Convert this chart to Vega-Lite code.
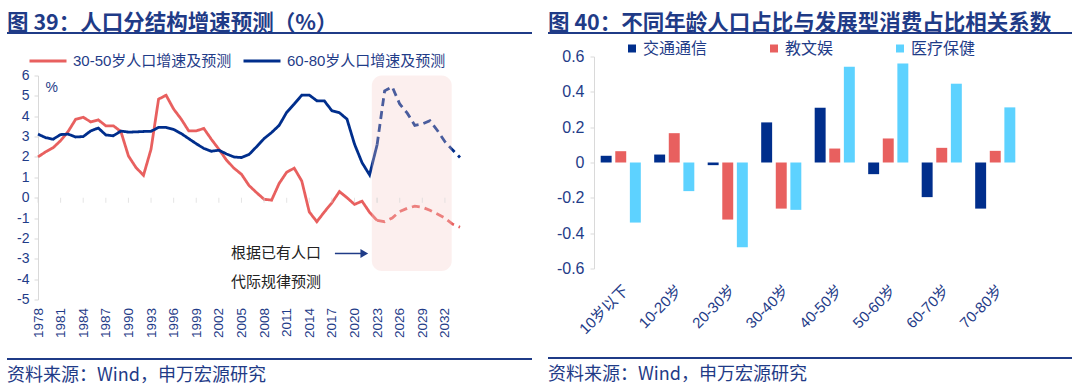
{
  "$schema": "https://vega.github.io/schema/vega-lite/v6.json",
  "background": "white",
  "padding": {"left": 7, "top": 12, "right": 0, "bottom": 0},
  "bounds": "full",
  "align": "none",
  "spacing": 16,
  "resolve": {"scale": {"color": "independent", "strokeDash": "independent", "x": "independent", "y": "independent"}, "legend": {"color": "independent", "strokeDash": "independent"}},
  "config": {
    "view": {"stroke": null},
    "font": "Liberation Sans, Noto Sans CJK SC",
    "axis": {"labelColor": "#1F3C88", "domainColor": "#D9D9D9", "tickColor": "#D9D9D9", "grid": false, "title": null, "labelOverlap": false}
  },
  "datasets": {
    "lines": [
      {"series": "30-50岁人口增速及预测", "type": "实际", "year": 1978, "value": 2.0},
      {"series": "30-50岁人口增速及预测", "type": "实际", "year": 1979, "value": 2.25},
      {"series": "30-50岁人口增速及预测", "type": "实际", "year": 1980, "value": 2.45},
      {"series": "30-50岁人口增速及预测", "type": "实际", "year": 1981, "value": 2.8},
      {"series": "30-50岁人口增速及预测", "type": "实际", "year": 1982, "value": 3.25},
      {"series": "30-50岁人口增速及预测", "type": "实际", "year": 1983, "value": 3.85},
      {"series": "30-50岁人口增速及预测", "type": "实际", "year": 1984, "value": 3.95},
      {"series": "30-50岁人口增速及预测", "type": "实际", "year": 1985, "value": 3.72},
      {"series": "30-50岁人口增速及预测", "type": "实际", "year": 1986, "value": 3.82},
      {"series": "30-50岁人口增速及预测", "type": "实际", "year": 1987, "value": 3.53},
      {"series": "30-50岁人口增速及预测", "type": "实际", "year": 1988, "value": 3.53},
      {"series": "30-50岁人口增速及预测", "type": "实际", "year": 1989, "value": 3.25},
      {"series": "30-50岁人口增速及预测", "type": "实际", "year": 1990, "value": 2.05},
      {"series": "30-50岁人口增速及预测", "type": "实际", "year": 1991, "value": 1.48},
      {"series": "30-50岁人口增速及预测", "type": "实际", "year": 1992, "value": 1.1},
      {"series": "30-50岁人口增速及预测", "type": "实际", "year": 1993, "value": 2.38},
      {"series": "30-50岁人口增速及预测", "type": "实际", "year": 1994, "value": 4.84},
      {"series": "30-50岁人口增速及预测", "type": "实际", "year": 1995, "value": 5.03},
      {"series": "30-50岁人口增速及预测", "type": "实际", "year": 1996, "value": 4.35},
      {"series": "30-50岁人口增速及预测", "type": "实际", "year": 1997, "value": 3.86},
      {"series": "30-50岁人口增速及预测", "type": "实际", "year": 1998, "value": 3.28},
      {"series": "30-50岁人口增速及预测", "type": "实际", "year": 1999, "value": 3.28},
      {"series": "30-50岁人口增速及预测", "type": "实际", "year": 2000, "value": 3.4},
      {"series": "30-50岁人口增速及预测", "type": "实际", "year": 2001, "value": 2.87},
      {"series": "30-50岁人口增速及预测", "type": "实际", "year": 2002, "value": 2.38},
      {"series": "30-50岁人口增速及预测", "type": "实际", "year": 2003, "value": 1.85},
      {"series": "30-50岁人口增速及预测", "type": "实际", "year": 2004, "value": 1.45},
      {"series": "30-50岁人口增速及预测", "type": "实际", "year": 2005, "value": 1.15},
      {"series": "30-50岁人口增速及预测", "type": "实际", "year": 2006, "value": 0.6},
      {"series": "30-50岁人口增速及预测", "type": "实际", "year": 2007, "value": 0.25},
      {"series": "30-50岁人口增速及预测", "type": "实际", "year": 2008, "value": -0.08},
      {"series": "30-50岁人口增速及预测", "type": "实际", "year": 2009, "value": -0.12},
      {"series": "30-50岁人口增速及预测", "type": "实际", "year": 2010, "value": 0.7},
      {"series": "30-50岁人口增速及预测", "type": "实际", "year": 2011, "value": 1.25},
      {"series": "30-50岁人口增速及预测", "type": "实际", "year": 2012, "value": 1.45},
      {"series": "30-50岁人口增速及预测", "type": "实际", "year": 2013, "value": 0.82},
      {"series": "30-50岁人口增速及预测", "type": "实际", "year": 2014, "value": -0.7},
      {"series": "30-50岁人口增速及预测", "type": "实际", "year": 2015, "value": -1.18},
      {"series": "30-50岁人口增速及预测", "type": "实际", "year": 2016, "value": -0.7},
      {"series": "30-50岁人口增速及预测", "type": "实际", "year": 2017, "value": -0.25},
      {"series": "30-50岁人口增速及预测", "type": "实际", "year": 2018, "value": 0.3},
      {"series": "30-50岁人口增速及预测", "type": "实际", "year": 2019, "value": 0.0},
      {"series": "30-50岁人口增速及预测", "type": "实际", "year": 2020, "value": -0.33},
      {"series": "30-50岁人口增速及预测", "type": "实际", "year": 2021, "value": -0.17},
      {"series": "30-50岁人口增速及预测", "type": "实际", "year": 2022, "value": -0.72},
      {"series": "30-50岁人口增速及预测", "type": "实际", "year": 2023, "value": -1.12},
      {"series": "30-50岁人口增速及预测", "type": "预测", "year": 2023, "value": -1.12},
      {"series": "30-50岁人口增速及预测", "type": "预测", "year": 2024, "value": -1.18},
      {"series": "30-50岁人口增速及预测", "type": "预测", "year": 2025, "value": -1.0},
      {"series": "30-50岁人口增速及预测", "type": "预测", "year": 2026, "value": -0.68},
      {"series": "30-50岁人口增速及预测", "type": "预测", "year": 2027, "value": -0.52},
      {"series": "30-50岁人口增速及预测", "type": "预测", "year": 2028, "value": -0.42},
      {"series": "30-50岁人口增速及预测", "type": "预测", "year": 2029, "value": -0.47},
      {"series": "30-50岁人口增速及预测", "type": "预测", "year": 2030, "value": -0.62},
      {"series": "30-50岁人口增速及预测", "type": "预测", "year": 2031, "value": -0.8},
      {"series": "30-50岁人口增速及预测", "type": "预测", "year": 2032, "value": -1.0},
      {"series": "30-50岁人口增速及预测", "type": "预测", "year": 2033, "value": -1.3},
      {"series": "30-50岁人口增速及预测", "type": "预测", "year": 2034, "value": -1.45},
      {"series": "60-80岁人口增速及预测", "type": "实际", "year": 1978, "value": 3.12},
      {"series": "60-80岁人口增速及预测", "type": "实际", "year": 1979, "value": 2.95},
      {"series": "60-80岁人口增速及预测", "type": "实际", "year": 1980, "value": 2.87},
      {"series": "60-80岁人口增速及预测", "type": "实际", "year": 1981, "value": 3.1},
      {"series": "60-80岁人口增速及预测", "type": "实际", "year": 1982, "value": 3.12},
      {"series": "60-80岁人口增速及预测", "type": "实际", "year": 1983, "value": 2.98},
      {"series": "60-80岁人口增速及预测", "type": "实际", "year": 1984, "value": 3.0},
      {"series": "60-80岁人口增速及预测", "type": "实际", "year": 1985, "value": 3.28},
      {"series": "60-80岁人口增速及预测", "type": "实际", "year": 1986, "value": 3.42},
      {"series": "60-80岁人口增速及预测", "type": "实际", "year": 1987, "value": 3.08},
      {"series": "60-80岁人口增速及预测", "type": "实际", "year": 1988, "value": 3.04},
      {"series": "60-80岁人口增速及预测", "type": "实际", "year": 1989, "value": 3.27},
      {"series": "60-80岁人口增速及预测", "type": "实际", "year": 1990, "value": 3.22},
      {"series": "60-80岁人口增速及预测", "type": "实际", "year": 1991, "value": 3.23},
      {"series": "60-80岁人口增速及预测", "type": "实际", "year": 1992, "value": 3.25},
      {"series": "60-80岁人口增速及预测", "type": "实际", "year": 1993, "value": 3.26},
      {"series": "60-80岁人口增速及预测", "type": "实际", "year": 1994, "value": 3.45},
      {"series": "60-80岁人口增速及预测", "type": "实际", "year": 1995, "value": 3.45},
      {"series": "60-80岁人口增速及预测", "type": "实际", "year": 1996, "value": 3.35},
      {"series": "60-80岁人口增速及预测", "type": "实际", "year": 1997, "value": 3.15},
      {"series": "60-80岁人口增速及预测", "type": "实际", "year": 1998, "value": 2.9},
      {"series": "60-80岁人口增速及预测", "type": "实际", "year": 1999, "value": 2.65},
      {"series": "60-80岁人口增速及预测", "type": "实际", "year": 2000, "value": 2.42},
      {"series": "60-80岁人口增速及预测", "type": "实际", "year": 2001, "value": 2.28},
      {"series": "60-80岁人口增速及预测", "type": "实际", "year": 2002, "value": 2.33},
      {"series": "60-80岁人口增速及预测", "type": "实际", "year": 2003, "value": 2.15},
      {"series": "60-80岁人口增速及预测", "type": "实际", "year": 2004, "value": 2.0},
      {"series": "60-80岁人口增速及预测", "type": "实际", "year": 2005, "value": 1.97},
      {"series": "60-80岁人口增速及预测", "type": "实际", "year": 2006, "value": 2.12},
      {"series": "60-80岁人口增速及预测", "type": "实际", "year": 2007, "value": 2.5},
      {"series": "60-80岁人口增速及预测", "type": "实际", "year": 2008, "value": 2.9},
      {"series": "60-80岁人口增速及预测", "type": "实际", "year": 2009, "value": 3.2},
      {"series": "60-80岁人口增速及预测", "type": "实际", "year": 2010, "value": 3.55},
      {"series": "60-80岁人口增速及预测", "type": "实际", "year": 2011, "value": 4.19},
      {"series": "60-80岁人口增速及预测", "type": "实际", "year": 2012, "value": 4.6},
      {"series": "60-80岁人口增速及预测", "type": "实际", "year": 2013, "value": 5.03},
      {"series": "60-80岁人口增速及预测", "type": "实际", "year": 2014, "value": 5.04},
      {"series": "60-80岁人口增速及预测", "type": "实际", "year": 2015, "value": 4.76},
      {"series": "60-80岁人口增速及预测", "type": "实际", "year": 2016, "value": 4.75},
      {"series": "60-80岁人口增速及预测", "type": "实际", "year": 2017, "value": 4.27},
      {"series": "60-80岁人口增速及预测", "type": "实际", "year": 2018, "value": 4.17},
      {"series": "60-80岁人口增速及预测", "type": "实际", "year": 2019, "value": 3.86},
      {"series": "60-80岁人口增速及预测", "type": "实际", "year": 2020, "value": 2.63},
      {"series": "60-80岁人口增速及预测", "type": "实际", "year": 2021, "value": 1.72},
      {"series": "60-80岁人口增速及预测", "type": "实际", "year": 2022, "value": 1.12},
      {"series": "60-80岁人口增速及预测", "type": "实际", "year": 2023, "value": 2.6},
      {"series": "60-80岁人口增速及预测", "type": "预测", "year": 2023, "value": 2.6},
      {"series": "60-80岁人口增速及预测", "type": "预测", "year": 2024, "value": 5.25},
      {"series": "60-80岁人口增速及预测", "type": "预测", "year": 2025, "value": 5.45},
      {"series": "60-80岁人口增速及预测", "type": "预测", "year": 2026, "value": 4.6},
      {"series": "60-80岁人口增速及预测", "type": "预测", "year": 2027, "value": 4.15},
      {"series": "60-80岁人口增速及预测", "type": "预测", "year": 2028, "value": 3.55},
      {"series": "60-80岁人口增速及预测", "type": "预测", "year": 2029, "value": 3.62},
      {"series": "60-80岁人口增速及预测", "type": "预测", "year": 2030, "value": 3.78},
      {"series": "60-80岁人口增速及预测", "type": "预测", "year": 2031, "value": 3.3},
      {"series": "60-80岁人口增速及预测", "type": "预测", "year": 2032, "value": 2.75},
      {"series": "60-80岁人口增速及预测", "type": "预测", "year": 2033, "value": 2.35},
      {"series": "60-80岁人口增速及预测", "type": "预测", "year": 2034, "value": 1.97}
    ],
    "bars": [
      {"age": "10岁以下", "cat": "交通通信", "value": 0.038},
      {"age": "10岁以下", "cat": "教文娱", "value": 0.064},
      {"age": "10岁以下", "cat": "医疗保健", "value": -0.34},
      {"age": "10-20岁", "cat": "交通通信", "value": 0.045},
      {"age": "10-20岁", "cat": "教文娱", "value": 0.166},
      {"age": "10-20岁", "cat": "医疗保健", "value": -0.162},
      {"age": "20-30岁", "cat": "交通通信", "value": -0.015},
      {"age": "20-30岁", "cat": "教文娱", "value": -0.323},
      {"age": "20-30岁", "cat": "医疗保健", "value": -0.48},
      {"age": "30-40岁", "cat": "交通通信", "value": 0.227},
      {"age": "30-40岁", "cat": "教文娱", "value": -0.261},
      {"age": "30-40岁", "cat": "医疗保健", "value": -0.268},
      {"age": "40-50岁", "cat": "交通通信", "value": 0.31},
      {"age": "40-50岁", "cat": "教文娱", "value": 0.079},
      {"age": "40-50岁", "cat": "医疗保健", "value": 0.542},
      {"age": "50-60岁", "cat": "交通通信", "value": -0.066},
      {"age": "50-60岁", "cat": "教文娱", "value": 0.136},
      {"age": "50-60岁", "cat": "医疗保健", "value": 0.561},
      {"age": "60-70岁", "cat": "交通通信", "value": -0.196},
      {"age": "60-70岁", "cat": "教文娱", "value": 0.083},
      {"age": "60-70岁", "cat": "医疗保健", "value": 0.446},
      {"age": "70-80岁", "cat": "交通通信", "value": -0.261},
      {"age": "70-80岁", "cat": "教文娱", "value": 0.066},
      {"age": "70-80岁", "cat": "医疗保健", "value": 0.312}
    ]
  },
  "concat": [
    {
      "columns": 1,
      "align": "none",
      "bounds": "full",
      "spacing": 6.5,
      "resolve": {"scale": {"color": "independent", "strokeDash": "independent", "x": "independent", "y": "independent"}, "legend": {"color": "independent", "strokeDash": "independent"}},
      "concat": [
        {
          "width": 525, "height": 2,
          "view": {"fill": "#1F3B87", "stroke": null},
          "title": {"text": "图 39：人口分结构增速预测（%）", "anchor": "start", "font": "Noto Sans CJK SC", "fontSize": 21.5, "fontWeight": "bold", "color": "#1F3B87", "offset": -2},
          "data": {"values": [{"t": ""}]},
          "mark": {"type": "text", "fontSize": 0},
          "encoding": {"text": {"field": "t"}}
        },
        {
          "width": 453, "height": 224,
          "layer": [
            {
              "data": {"name": "lines"},
              "mark": {"type": "line", "strokeWidth": 2.8},
              "encoding": {
                "x": {"field": "year", "type": "quantitative",
                      "scale": {"domain": [1978, 2034], "nice": false, "zero": false, "rangeMin": 31},
                      "axis": {"values": [1978, 1981, 1984, 1987, 1990, 1993, 1996, 1999, 2002, 2005, 2008, 2011, 2014, 2017, 2020, 2023, 2026, 2029, 2032],
                               "tickCount": 40, "format": "d", "labelAngle": -90, "labelOverlap": false, "domain": false, "ticks": false, "labelFontSize": 13.5, "labelPadding": 8, "minExtent": 51.5, "title": null}},
                "y": {"field": "value", "type": "quantitative",
                      "scale": {"domain": [-5, 6], "nice": false, "zero": false},
                      "axis": {"values": [-5, -4, -3, -2, -1, 0, 1, 2, 3, 4, 5, 6], "tickCount": 40, "offset": -31, "labelExpr": "'' + datum.value", "labelOverlap": false, "labelFontSize": 14, "tickSize": 4, "labelPadding": 5, "title": null}},
                "color": {"field": "series", "type": "nominal",
                          "scale": {"domain": ["30-50岁人口增速及预测", "60-80岁人口增速及预测"], "range": ["#E8605F", "#002E8C"]},
                          "legend": {"orient": "none", "legendX": 21, "legendY": -34.5, "direction": "horizontal", "title": null, "symbolType": "stroke", "symbolSize": 1369, "symbolStrokeWidth": 3, "labelFontSize": 15, "labelColor": "#1F3C88", "padding": 0, "columnPadding": 5, "labelOffset": 5}},
                "strokeDash": {"field": "type", "type": "nominal",
                               "scale": {"domain": ["实际", "预测"], "range": [[1, 0], [8, 5]]}, "legend": null}
              }
            },
            {
              "data": {"values": [{"x1": 2022.3, "x2": 2032.9, "y1": 6.0, "y2": -3.6}]},
              "mark": {"type": "rect", "cornerRadius": 10, "color": "#F5CAC6", "opacity": 0.3},
              "encoding": {
                "x": {"field": "x1", "type": "quantitative"},
                "x2": {"field": "x2"},
                "y": {"field": "y1", "type": "quantitative"},
                "y2": {"field": "y2"}
              }
            },
            {
              "mark": {"type": "rule", "color": "#D9D9D9", "strokeWidth": 1},
              "encoding": {"x": {"datum": 1978, "type": "quantitative"}, "x2": {"datum": 2034}, "y": {"datum": 0, "type": "quantitative"}}
            },
            {
              "data": {"name": "lines"},
              "transform": [
                {"filter": {"field": "series", "equal": "60-80岁人口增速及预测"}},
                {"filter": {"field": "year", "oneOf": [1978, 1981, 1984, 1987, 1990, 1993, 1996, 1999, 2002, 2005, 2008, 2011, 2014, 2017, 2020, 2023, 2026, 2029, 2032]}}
              ],
              "mark": {"type": "tick", "orient": "vertical", "size": 5, "thickness": 1, "color": "#D9D9D9", "yOffset": 2.5},
              "encoding": {
                "x": {"field": "year", "type": "quantitative"},
                "y": {"datum": 0, "type": "quantitative"}
              }
            },
            {
              "data": {"values": [{"x": 1979, "y": 5.4, "t": "%"}]},
              "mark": {"type": "text", "align": "left", "baseline": "middle", "fontSize": 14, "color": "#1F3C88"},
              "encoding": {
                "x": {"field": "x", "type": "quantitative"},
                "y": {"field": "y", "type": "quantitative"},
                "text": {"field": "t"}
              }
            },
            {
              "data": {"values": [{"x": 2003.6, "y": -2.74, "t": "根据已有人口"}, {"x": 2003.6, "y": -4.15, "t": "代际规律预测"}]},
              "mark": {"type": "text", "align": "left", "baseline": "middle", "font": "Noto Sans CJK SC", "fontSize": 15, "color": "#222222"},
              "encoding": {
                "x": {"field": "x", "type": "quantitative"},
                "y": {"field": "y", "type": "quantitative"},
                "text": {"field": "t"}
              }
            },
            {
              "data": {"values": [{"x": 2017.4, "x2": 2021.0, "y": -2.74}]},
              "mark": {"type": "rule", "color": "#1F3B87", "strokeWidth": 1.5},
              "encoding": {
                "x": {"field": "x", "type": "quantitative"},
                "x2": {"field": "x2"},
                "y": {"field": "y", "type": "quantitative"}
              }
            },
            {
              "data": {"values": [{"x": 2021.3, "y": -2.74}]},
              "mark": {"type": "point", "shape": "triangle-right", "filled": true, "size": 80, "color": "#1F3B87", "opacity": 1},
              "encoding": {
                "x": {"field": "x", "type": "quantitative"},
                "y": {"field": "y", "type": "quantitative"}
              }
            }
          ]
        },
        {
          "width": 525, "height": 2,
          "view": {"fill": "#1F3B87", "stroke": null},
          "title": {"text": "资料来源：Wind，申万宏源研究", "orient": "bottom", "anchor": "start", "font": "Noto Sans CJK SC", "fontSize": 18, "fontWeight": "normal", "color": "#1F3B87", "offset": 7},
          "data": {"values": [{"t": ""}]},
          "mark": {"type": "text", "fontSize": 0},
          "encoding": {"text": {"field": "t"}}
        }
      ]
    },
    {
      "columns": 1,
      "align": "none",
      "bounds": "full",
      "spacing": 6.5,
      "resolve": {"scale": {"color": "independent", "x": "independent", "y": "independent"}, "legend": {"color": "independent"}},
      "concat": [
        {
          "width": 524, "height": 2,
          "view": {"fill": "#1F3B87", "stroke": null},
          "title": {"text": "图 40：不同年龄人口占比与发展型消费占比相关系数", "anchor": "start", "font": "Noto Sans CJK SC", "fontSize": 21.5, "fontWeight": "bold", "color": "#1F3B87", "offset": -2},
          "data": {"values": [{"t": ""}]},
          "mark": {"type": "text", "fontSize": 0},
          "encoding": {"text": {"field": "t"}}
        },
        {
          "width": 474, "height": 212,
          "resolve": {"scale": {"x": "independent"}},
          "layer": [
            {
              "mark": {"type": "rule", "color": "#D9D9D9", "strokeWidth": 1},
              "encoding": {
                "x": {"datum": 0, "type": "quantitative", "scale": {"domain": [0, 1], "rangeMin": 46}, "axis": null},
                "x2": {"datum": 1},
                "y": {"datum": 0, "type": "quantitative", "scale": {"domain": [-0.6, 0.6], "nice": false}}
              }
            },
            {
              "data": {"name": "bars"},
              "mark": {"type": "bar"},
              "encoding": {
                "x": {"field": "age", "type": "nominal",
                      "sort": ["10岁以下", "10-20岁", "20-30岁", "30-40岁", "40-50岁", "50-60岁", "60-70岁", "70-80岁"],
                      "scale": {"paddingInner": 0.25, "paddingOuter": 0.125, "rangeMin": 46},
                      "axis": {"labelAngle": -45, "labelOverlap": false, "domain": false, "ticks": false, "labelFontSize": 15, "labelPadding": 14, "minExtent": 81.5, "title": null}},
                "xOffset": {"field": "cat", "type": "nominal", "sort": ["交通通信", "教文娱", "医疗保健"],
                            "scale": {"paddingInner": 0.25, "paddingOuter": 0}},
                "y": {"field": "value", "type": "quantitative",
                      "scale": {"domain": [-0.6, 0.6], "nice": false},
                      "axis": {"values": [-0.6, -0.4, -0.2, 0, 0.2, 0.4, 0.6], "tickCount": 40, "offset": -46, "labelExpr": "'' + datum.value", "labelOverlap": false, "labelFontSize": 16, "tickSize": 4, "labelPadding": 6, "title": null}},
                "color": {"field": "cat", "type": "nominal",
                          "scale": {"domain": ["交通通信", "教文娱", "医疗保健"], "range": ["#002E8C", "#E8605F", "#5DD2FF"]},
                          "legend": {"orient": "none", "legendX": 76, "legendY": -16, "direction": "horizontal", "title": null, "symbolType": "square", "symbolSize": 64, "symbolStrokeWidth": 0, "labelFontSize": 16, "labelColor": "#1F3C88", "padding": 0, "columnPadding": 58, "labelOffset": 3}}
              }
            }
          ]
        },
        {
          "width": 524, "height": 2,
          "view": {"fill": "#1F3B87", "stroke": null},
          "title": {"text": "资料来源：Wind，申万宏源研究", "orient": "bottom", "anchor": "start", "font": "Noto Sans CJK SC", "fontSize": 18, "fontWeight": "normal", "color": "#1F3B87", "offset": 7},
          "data": {"values": [{"t": ""}]},
          "mark": {"type": "text", "fontSize": 0},
          "encoding": {"text": {"field": "t"}}
        }
      ]
    }
  ]
}
